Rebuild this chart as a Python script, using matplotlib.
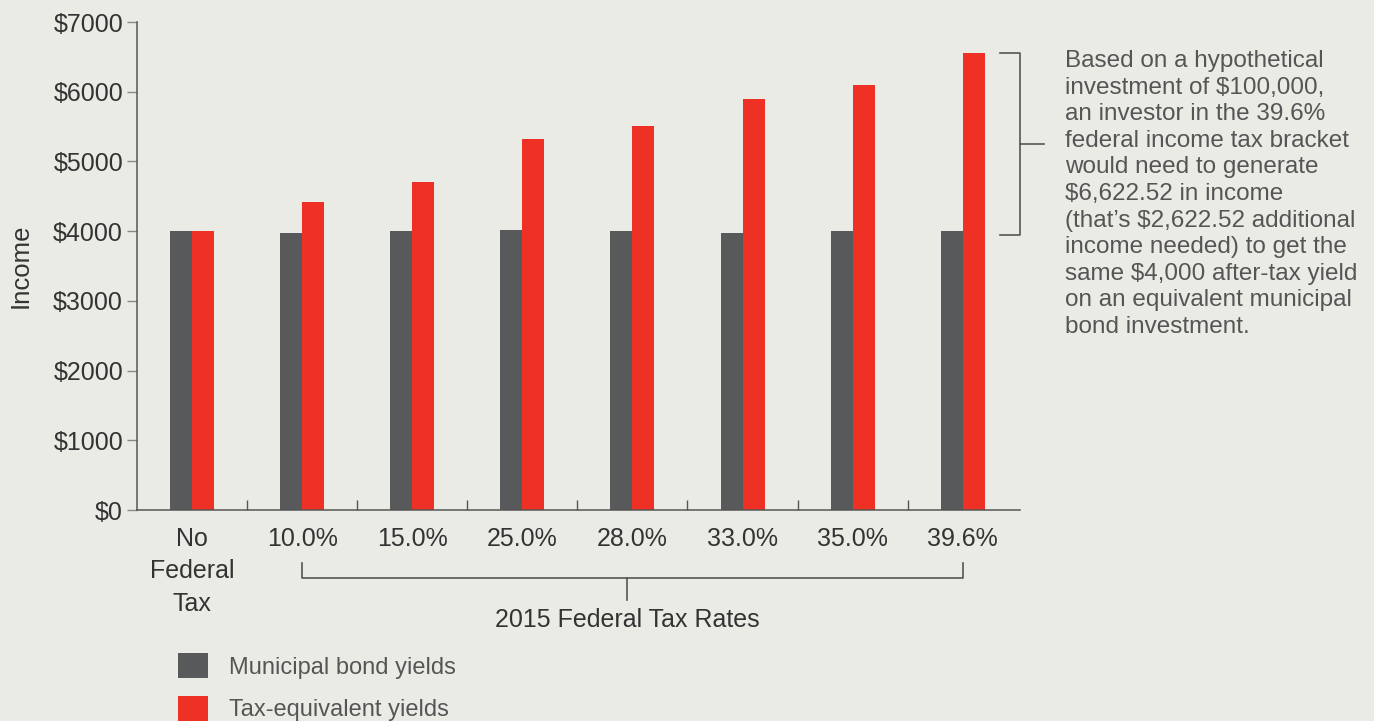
import numpy as np
import matplotlib
matplotlib.use("Agg")
import matplotlib.pyplot as plt
from matplotlib.ticker import FixedLocator

# data
categories = ["No\nFederal\nTax", "10.0%", "15.0%", "25.0%", "28.0%", "33.0%", "35.0%", "39.6%"]
muni_yields = [4000, 3970, 4000, 4010, 4000, 3970, 4000, 4000]
tax_equiv_yields = [4000, 4420, 4700, 5320, 5510, 5900, 6090, 6560]
y_ticks = [0, 1000, 2000, 3000, 4000, 5000, 6000, 7000]
y_tick_labels = ["$0", "$1000", "$2000", "$3000", "$4000", "$5000", "$6000", "$7000"]
series_names = ["Municipal bond yields", "Tax-equivalent yields"]
note = ("Based on a hypothetical\n"
        "investment of $100,000,\n"
        "an investor in the 39.6%\n"
        "federal income tax bracket\n"
        "would need to generate\n"
        "$6,622.52 in income\n"
        "(that\u2019s $2,622.52 additional\n"
        "income needed) to get the\n"
        "same $4,000 after-tax yield\n"
        "on an equivalent municipal\n"
        "bond investment.")

bg = "#EBEBE6"
dark = "#58595B"
red = "#EE3124"
txt = "#333333"
grey_txt = "#555555"

plt.rcParams["font.family"] = ["Liberation Sans", "DejaVu Sans"]

fig = plt.figure(figsize=(13.74, 7.21), dpi=100, facecolor=bg)
ax = fig.add_axes([137/1374, 1-510/721, (1020-137)/1374, (510-22)/721])
ax.set_facecolor(bg)

x = np.arange(len(categories))
w = 0.2
b1 = ax.bar(x - w/2, muni_yields, w, color=dark, linewidth=0, label=series_names[0])
b2 = ax.bar(x + w/2, tax_equiv_yields, w, color=red, linewidth=0, label=series_names[1])

ax.set_xlim(-0.5, 7.52)
ax.set_ylim(0, 7000)

for s in ["top", "right"]:
    ax.spines[s].set_visible(False)
ax.spines["left"].set_color("#555555")
ax.spines["bottom"].set_color("#555555")
ax.spines["left"].set_linewidth(1.1)
ax.spines["bottom"].set_linewidth(1.1)

ax.set_yticks(y_ticks)
ax.set_yticklabels(y_tick_labels)
ax.tick_params(axis="y", length=7, width=1, color="#888888", pad=3,
               labelsize=18, labelcolor=txt)

ax.set_xticks(x)
ax.set_xticklabels(categories)
ax.tick_params(axis="x", which="major", length=0, pad=12, labelsize=18, labelcolor=txt)
for lab in ax.get_xticklabels():
    lab.set_linespacing(1.45)
ax.xaxis.set_minor_locator(FixedLocator(x[:-1] + 0.5))
ax.tick_params(axis="x", which="minor", direction="in", length=7, width=1, color="#555555")

ax.set_ylabel("Income", fontsize=18.5, color=txt)
ax.yaxis.set_label_coords(-0.118, 0.5)

# bracket under the tax rates
tr = ax.get_xaxis_transform()
lc = "#555555"
ax.plot([1, 1, 7, 7], [-0.109, -0.139, -0.139, -0.109], transform=tr, color=lc,
        lw=1.2, clip_on=False)
ax.plot([3.95, 3.95], [-0.139, -0.184], transform=tr, color=lc, lw=1.2, clip_on=False)
ax.text(3.95, -0.226, "2015 Federal Tax Rates", transform=tr, ha="center", va="center",
        fontsize=18, color=txt)

# bracket on the right
ax.plot([7.336, 7.518, 7.518, 7.336], [6560, 6560, 3940, 3940], color=lc, lw=1.2,
        clip_on=False)
ax.plot([7.518, 7.736], [5250, 5250], color=lc, lw=1.2, clip_on=False)

fig.text(1065/1374, 1-50/721, note, ha="left", va="top", fontsize=17.5,
         color=grey_txt, linespacing=1.27)

leg = ax.legend(handles=[b1, b2], loc="upper left",
                bbox_to_anchor=(178/1374, 1-653/721), bbox_transform=fig.transFigure,
                frameon=False, fontsize=17, handlelength=1.27, handleheight=1.27,
                handletextpad=0.9, labelspacing=0.72, borderpad=0, borderaxespad=0)
for t in leg.get_texts():
    t.set_color(grey_txt)

fig.savefig("out.png", dpi=100, facecolor=bg)
